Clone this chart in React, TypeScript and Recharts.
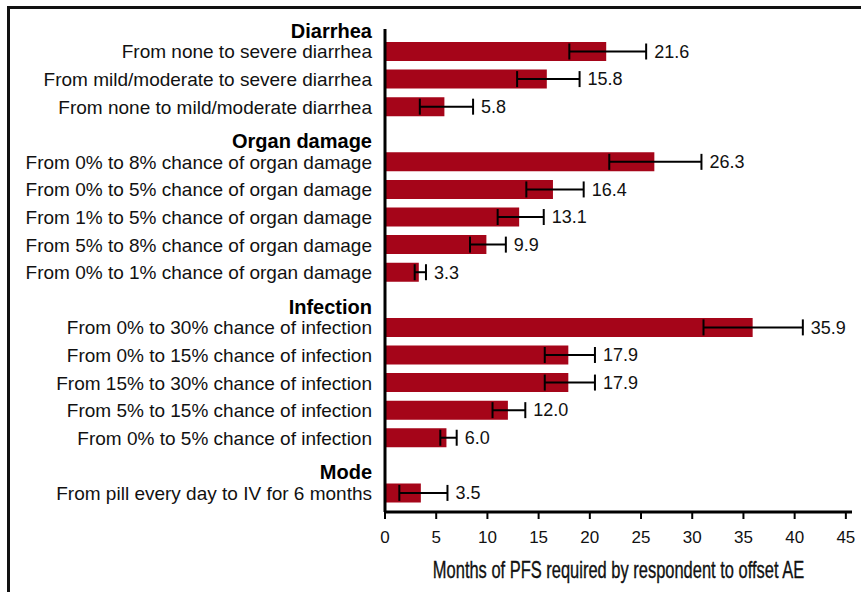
import React from 'react';
import { BarChart, Bar, XAxis, YAxis, ErrorBar, LabelList } from 'recharts';

const groupNames = ['Diarrhea', 'Organ damage', 'Infection', 'Mode'];

const categories: string[][] = [
  [
    'From none to severe diarrhea',
    'From mild/moderate to severe diarrhea',
    'From none to mild/moderate diarrhea',
  ],
  [
    'From 0% to 8% chance of organ damage',
    'From 0% to 5% chance of organ damage',
    'From 1% to 5% chance of organ damage',
    'From 5% to 8% chance of organ damage',
    'From 0% to 1% chance of organ damage',
  ],
  [
    'From 0% to 30% chance of infection',
    'From 0% to 15% chance of infection',
    'From 15% to 30% chance of infection',
    'From 5% to 15% chance of infection',
    'From 0% to 5% chance of infection',
  ],
  ['From pill every day to IV for 6 months'],
];

const values: number[][] = [
  [21.6, 15.8, 5.8],
  [26.3, 16.4, 13.1, 9.9, 3.3],
  [35.9, 17.9, 17.9, 12.0, 6.0],
  [3.5],
];

const lowCI: number[][] = [
  [18.0, 12.9, 3.4],
  [21.9, 13.8, 11.0, 8.3, 2.9],
  [31.1, 15.6, 15.6, 10.5, 5.4],
  [1.4],
];

const highCI: number[][] = [
  [25.5, 19.0, 8.6],
  [30.9, 19.4, 15.5, 11.8, 4.0],
  [40.8, 20.5, 20.5, 13.7, 7.0],
  [6.1],
];

const xTicks = [0, 5, 10, 15, 20, 25, 30, 35, 40, 45];

type Row = {
  key: string;
  label: string;
  header?: string;
  value?: number;
  err?: [number, number];
  high?: number;
};

const rows: Row[] = [];
groupNames.forEach((g, gi) => {
  if (gi > 0) rows.push({ key: `gap${gi}`, label: '' });
  categories[gi].forEach((c, ci) => {
    const v = values[gi][ci];
    rows.push({
      key: `r${gi}-${ci}`,
      label: c,
      header: ci === 0 ? g : undefined,
      value: v,
      err: [v - lowCI[gi][ci], highCI[gi][ci] - v],
      high: highCI[gi][ci],
    });
  });
});

const FONT = '"Liberation Sans", Arial, Helvetica, sans-serif';
const BAR_COLOR = '#a50519';

const YTick = (props: any) => {
  const { x, y, payload } = props;
  const row = rows.find((r) => r.key === payload.value);
  if (!row || !row.label) return null;
  return (
    <g>
      {row.header && (
        <text x={x} y={y - 21} dy="0.35em" textAnchor="end" fontWeight="bold" fontSize={20} fill="#000" fontFamily={FONT}>
          {row.header}
        </text>
      )}
      <text x={x} y={y} dy="0.35em" textAnchor="end" fontSize={19} fill="#111" fontFamily={FONT}>
        {row.label}
      </text>
    </g>
  );
};

const ValueLabel = (props: any) => {
  const { x, y, width, height, value } = props;
  const row = rows.find((r) => r.key === value);
  if (!row || row.value == null || row.high == null) return null;
  const px = Number(x) + Number(width) * (row.high / row.value);
  return (
    <text x={px + 8} y={Number(y) + Number(height) / 2} dy="0.35em" fontSize={18} fill="#111" fontFamily={FONT}>
      {row.value.toFixed(1)}
    </text>
  );
};

const AxisTitle = (props: any) => {
  const vb = props.viewBox || {};
  const cx = vb.x + vb.width / 2;
  return (
    <g transform={`translate(${cx}, ${vb.y + 65.5}) scale(0.716, 1)`}>
      <text x={0} y={0} textAnchor="middle" fontSize={23} fill="#111" stroke="#111" strokeWidth={0.35} fontFamily={FONT}>
        Months of PFS required by respondent to offset AE
      </text>
    </g>
  );
};

export default function App() {
  return (
    <div style={{ position: 'absolute', left: 0, top: 0, width: 861, height: 592, background: '#fff', overflow: 'hidden' }}>
      <div
        style={{
          position: 'absolute',
          left: 7,
          top: 6,
          width: 870,
          height: 600,
          borderTop: '3px solid #111',
          borderLeft: '3px solid #111',
          boxSizing: 'border-box',
        }}
      />
      <div style={{ position: 'absolute', left: 0, top: 0 }}>
        <BarChart
          width={861}
          height={592}
          data={rows}
          layout="vertical"
          margin={{ top: 29, right: 9, left: 0, bottom: 0 }}
        >
          <XAxis
            type="number"
            domain={[0, 45.6]}
            ticks={xTicks}
            allowDataOverflow
            axisLine={{ stroke: '#000', strokeWidth: 3 }}
            tickLine={{ stroke: '#000', strokeWidth: 2 }}
            tickSize={7}
            tickMargin={12}
            tick={{ fontSize: 17, fill: '#111', fontFamily: FONT }}
            height={80}
            label={<AxisTitle />}
          />
          <YAxis
            type="category"
            dataKey="key"
            width={385}
            padding={{ top: 9, bottom: 5 }}
            axisLine={{ stroke: '#000', strokeWidth: 3 }}
            tickLine={false}
            tickSize={0}
            tickMargin={13}
            tick={<YTick />}
            interval={0}
          />
          <Bar dataKey="value" fill={BAR_COLOR} barSize={19} isAnimationActive={false}>
            <ErrorBar dataKey="err" direction="x" width={8} strokeWidth={2} stroke="#000" />
            <LabelList dataKey="key" content={<ValueLabel />} />
          </Bar>
        </BarChart>
      </div>
    </div>
  );
}
